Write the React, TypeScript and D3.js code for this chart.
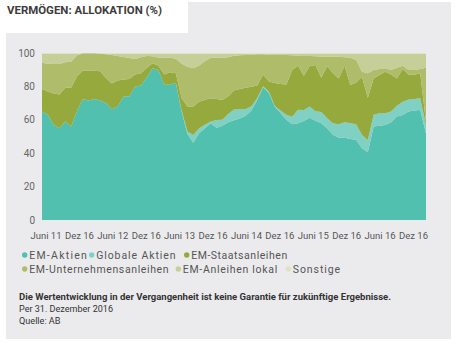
import React from "react";
import * as d3 from "d3";

const months = d3.timeMonths(new Date(2011, 5, 1), new Date(2017, 0, 1)); // Jun 2011 .. Dec 2016

const emAktien = [65, 63, 57, 55, 59, 56, 65, 72.5, 71.5, 72.5, 71.5, 70, 66.3, 68, 74, 74, 80, 80.5, 85.5, 90.8, 89.8, 81, 81, 82, 65, 51.5, 46.3, 52, 55, 58, 55.3, 56.5, 58.5, 59.8, 60.8, 62.5, 65.5, 72, 79.5, 76, 68, 64, 60, 57.3, 58, 59.3, 61.3, 59.5, 58, 55, 51, 49.3, 49.3, 48.5, 48, 42.9, 40.5, 56, 56.5, 56.9, 58.5, 62, 62.9, 65, 65.5, 65.9, 51.9];
const globaleAktien = [0, 0, 0, 0, 0, 0, 0, 0, 0, 0, 0, 0, 0, 0, 0, 0, 0, 0, 0, 0, 0, 0, 0, 0, 0.5, 1.5, 4.6, 3, 2, 1, 4.6, 3.6, 5, 6.4, 5.5, 4, 2.6, 1, 0.6, 0.9, 0.4, 1.5, 3, 4.6, 8, 6.6, 6.6, 5.6, 6.6, 6, 7, 8, 9.2, 9.4, 9.4, 8, 7.4, 7, 7.4, 7, 6.4, 6.4, 7.9, 7.2, 7, 7, 5];
const emStaats = [13.4, 14, 18.8, 20.2, 20.2, 23.2, 21, 16.9, 17.9, 16.9, 17.5, 15, 15.5, 15.5, 10.2, 10.4, 7.2, 7.3, 5.5, 3, 2.6, 6.2, 7.4, 5.8, 7.4, 14.9, 17, 15.8, 15, 13.9, 12.6, 11.8, 10.5, 11.3, 12.2, 12.7, 11.7, 7.5, 7.1, 6.1, 13.6, 16, 18.2, 27.9, 26.4, 20.5, 24.1, 27.7, 20.6, 31, 30, 27.5, 33.9, 22.9, 25, 34.9, 25.1, 21.8, 22.9, 24.9, 22.3, 16.4, 19.6, 15, 14.5, 14.9, 2.1];
const emUnternehmen = [15.8, 16.6, 17.6, 18.2, 15.2, 15.6, 12.5, 10.4, 10.4, 10.4, 10.5, 14.2, 17, 14.7, 13.4, 12.6, 9.2, 9.7, 7.2, 4.2, 4.8, 10, 8.8, 8.7, 20.6, 23.9, 22.9, 21.7, 23, 24.3, 24.7, 25.3, 23.5, 20.9, 20.1, 19.6, 19.2, 18.7, 12, 16, 16.8, 17.3, 17.6, 8.8, 6, 11.8, 6.2, 5.2, 12.6, 5.8, 9.8, 13, 5.1, 16.4, 13.4, 3, 14.8, 5, 3.6, 2, 2.6, 6.4, 2, 2.6, 2.8, 2.6, 32.2];
const emLokal = [5.2, 5.8, 6, 6, 5, 4.6, 0.9, 0, 0, 0, 0.2, 0.4, 0.7, 1.3, 1.9, 2.5, 3.1, 2, 1.3, 1.5, 2.3, 2.3, 2.3, 3, 6, 7.7, 8.7, 7, 4.5, 2.3, 2.3, 2.3, 2, 1.1, 0.9, 0.7, 0.5, 0.3, 0.3, 0.5, 0.7, 0.7, 0.7, 0.9, 1.1, 1.3, 1.3, 1.5, 1.7, 1.7, 1.7, 1.7, 2, 2.3, 3.7, 10.7, 11.7, 9.7, 9.1, 8.7, 9.7, 8.3, 7.1, 9.7, 9.7, 9.1, 8.3];
const sonstige = [0.6, 0.6, 0.6, 0.6, 0.6, 0.6, 0.6, 0.2, 0.2, 0.2, 0.3, 0.4, 0.5, 0.5, 0.5, 0.5, 0.5, 0.5, 0.5, 0.5, 0.5, 0.5, 0.5, 0.5, 0.5, 0.5, 0.5, 0.5, 0.5, 0.5, 0.5, 0.5, 0.5, 0.5, 0.5, 0.5, 0.5, 0.5, 0.5, 0.5, 0.5, 0.5, 0.5, 0.5, 0.5, 0.5, 0.5, 0.5, 0.5, 0.5, 0.5, 0.5, 0.5, 0.5, 0.5, 0.5, 0.5, 0.5, 0.5, 0.5, 0.5, 0.5, 0.5, 0.5, 0.5, 0.5, 0.5];

const seriesNames = ["EM-Aktien", "Globale Aktien", "EM-Staatsanleihen", "EM-Unternehmensanleihen", "EM-Anleihen lokal", "Sonstige"];
const seriesValues = [emAktien, globaleAktien, emStaats, emUnternehmen, emLokal, sonstige];
const seriesColors = ["#52c0ae", "#80d0c4", "#95a93d", "#afbc6a", "#c6cf97", "#dfe3c6"];
const yTicks = [0, 20, 40, 60, 80, 100];
const xLabels = ["Juni 11", "Dez 16", "Juni 12", "Dez 16", "Juni 13", "Dez 16", "Juni 14", "Dez 16", "Juni 15", "Dez 16", "Juni 16", "Dez 16"];

const title = "VERMÖGEN: ALLOKATION (%)";
const footnotes = [
  "Die Wertentwicklung in der Vergangenheit ist keine Garantie für zukünftige Ergebnisse.",
  "Per 31. Dezember 2016",
  "Quelle: AB",
];

// legend layout (style only)
const legendPos = [
  { x: 24.7, y: 255, w: 57.7 },
  { x: 91.7, y: 255, w: 79.3 },
  { x: 186.7, y: 255, w: 96 },
  { x: 24.7, y: 269, w: 139.4 },
  { x: 178.3, y: 269, w: 94.4 },
  { x: 288.3, y: 269, w: 47.3 },
];

const FONT = "Roboto, 'Open Sans', sans-serif";

export default function App() {
  const rows = months.map((m, i) => {
    const r: any = { i };
    seriesNames.forEach((n, k) => (r[n] = seriesValues[k][i]));
    return r;
  });
  const x = d3.scaleLinear().domain([0, months.length - 1]).range([42, 426]);
  const y = d3.scaleLinear().domain([0, 100]).range([220, 53]);
  const stacked = d3.stack<any>().keys(seriesNames)(rows);
  const area = d3
    .area<any>()
    .x((d) => x(d.data.i))
    .y0((d) => y(d[0]))
    .y1((d) => y(d[1]));
  const xl = d3.scalePoint<number>().domain(d3.range(xLabels.length)).range([46, 413.5]);

  return (
    <div style={{ position: "absolute", left: 0, top: 0 }}>
      <svg width={456} height={347} style={{ display: "block" }}>
        <rect x={0} y={0} width={456} height={347} fill="#ffffff" />
        <rect x={6} y={2} width={445} height={337} fill="#ebebed" />
        <rect x={0} y={0} width={188} height={33} fill="#ffffff" />
        <text x={7} y={13.5} fontFamily={FONT} fontWeight={700} fontSize={10.5} fill="#3c3c3c" textLength={155} lengthAdjust="spacingAndGlyphs">
          {title}
        </text>
        {stacked.map((s, k) => (
          <path key={k} d={area(s) || ""} fill={seriesColors[k]} />
        ))}
        {yTicks.map((t) => (
          <text key={t} x={35} y={y(t) + 3.6} textAnchor="end" fontFamily={FONT} fontSize={10} fill="#666">
            {t}
          </text>
        ))}
        {xLabels.map((l, k) => (
          <text key={k} x={xl(k)} y={238.5} textAnchor="middle" fontFamily={FONT} fontSize={9.5} fill="#555">
            {l}
          </text>
        ))}
        {seriesNames.map((n, k) => (
          <g key={n}>
            <circle cx={legendPos[k].x} cy={legendPos[k].y} r={2.7} fill={seriesColors[k]} />
            <text x={legendPos[k].x + 4.5} y={legendPos[k].y + 3.6} fontFamily={FONT} fontSize={10.5} fill="#555" textLength={legendPos[k].w} lengthAdjust="spacing">
              {n}
            </text>
          </g>
        ))}
        <text x={19} y={300} fontFamily={FONT} fontSize={9} fontWeight={700} fill="#333" textLength={372} lengthAdjust="spacingAndGlyphs">
          {footnotes[0]}
        </text>
        <text x={19} y={312} fontFamily={FONT} fontSize={9} fill="#333" textLength={94} lengthAdjust="spacingAndGlyphs">
          {footnotes[1]}
        </text>
        <text x={19} y={324} fontFamily={FONT} fontSize={9} fill="#333" textLength={41.5} lengthAdjust="spacingAndGlyphs">
          {footnotes[2]}
        </text>
      </svg>
    </div>
  );
}
